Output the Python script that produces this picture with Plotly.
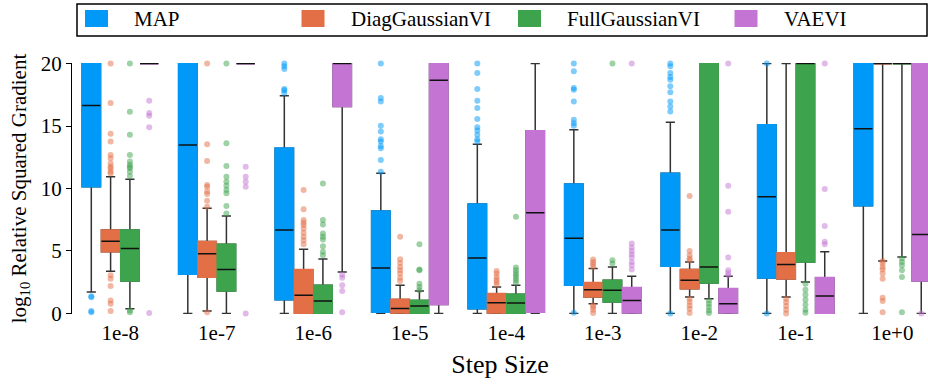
import plotly.graph_objects as go

# ---- data: log10 relative squared gradient, box statistics per step size ----
steps = ["1e-8", "1e-7", "1e-6", "1e-5", "1e-4", "1e-3", "1e-2", "1e-1", "1e+0"]
methods = ["MAP", "DiagGaussianVI", "FullGaussianVI", "VAEVI"]

map_q1 = [10.15, 3.13, 1.1, 0.1, 0.37, 2.25, 3.78, 2.84, 8.62]
map_med = [16.65, 13.49, 6.67, 3.64, 4.44, 6.02, 6.67, 9.34, 14.78]
map_q3 = [20, 20, 13.23, 8.19, 8.76, 10.36, 11.22, 15.1, 20]
map_lo = [1.71, 0, 0, 0, 0, 0, 0, 0, 0]
map_hi = [20, 20, 17.43, 11.22, 13.55, 14.7, 15.31, 20, 20]
map_out = [
    [1.37, 1.3, 0.19, 0.1],
    [],
    [20, 19.78, 19.57, 17.97, 17.86, 17.64],
    [20, 17.24, 16.97, 15.02, 14.56, 13.95, 13.76, 13.41, 13.23, 12.29, 11.35],
    [20, 19.25, 17.97, 17.03, 16.44, 15.56, 14.91, 14.64, 14.3, 13.95, 13.76],
    [20, 19.38, 18.05, 17.91, 16.97, 15.5, 15.23, 15.02, 0.05],
    [20, 19.78, 19.25, 18.93, 18.71, 18.18, 17.7, 16.97, 16.57, 16.17, 0.0],
    [20, 0.0],
    [],
]

diag_q1 = [4.93, 2.89, 0.0, 0.03, 0.03, 1.31, 1.98, 2.76, 20]
diag_med = [5.78, 4.77, 1.45, 0.4, 0.86, 1.9, 2.65, 3.91, 20]
diag_q3 = [6.67, 5.76, 3.5, 1.12, 1.58, 2.46, 3.51, 4.85, 20]
diag_lo = [3.37, 0.19, 0, 0, 0, 0.78, 1.31, 1.31, 4.2]
diag_hi = [10.95, 8.41, 5.14, 2.25, 2.12, 3.59, 4.12, 20, 20]
diag_out = [
    [20, 16.84, 14.38, 13.76, 12.69, 12.42, 12.0, 11.75, 11.6, 11.35, 11.2,
     3.05, 2.78, 2.2, 1.04, 0.78, 0.19],
    [20, 13.55, 12.2, 10.28, 10.15, 9.75, 9.56, 9.02, 8.54, 0.1],
    [9.88, 8.33, 7.47, 7.26, 7.07, 6.8, 6.45, 6.13, 5.86, 5.54],
    [6.13, 4.34, 4.04, 3.72, 3.45, 3.19, 2.86, 2.6],
    [3.4, 3.19, 2.92, 2.7, 2.52, 2.3],
    [4.31, 4.12, 3.94, 3.72, 0.65, 0.51, 0.29, 0.03],
    [9.4, 5.0, 4.66, 4.39, 4.26, 1.18, 0.91, 0.64, 0.37, 0.03],
    [1.18, 0.9, 0.6, 0.3, 0.0],
    [4.2, 3.99, 3.72, 3.51, 3.19, 2.78, 1.26, 0.99, 0.1],
]

full_q1 = [2.6, 1.79, 0, 0, 0, 0.91, 2.44, 4.12, 20]
full_med = [5.2, 3.51, 0.99, 0.59, 0.83, 1.85, 3.72, 20, 20]
full_q3 = [6.67, 5.54, 2.25, 1.04, 1.53, 2.65, 20, 20, 20]
full_lo = [0.37, 0, 0, 0, 0, 0, 1.18, 2.52, 4.52]
full_hi = [10.74, 7.79, 4.36, 1.79, 2.25, 3.72, 20, 20, 20]
full_out = [
    [20, 16.14, 14.3, 12.69, 12.16, 11.9, 11.75, 11.62, 11.35, 11.0, 0.24, 0.1],
    [20, 13.63, 11.81, 10.95, 10.55, 10.23, 9.88, 9.61, 8.59, 8.0],
    [10.41, 7.47, 7.12, 6.4, 6.13, 5.92, 5.38, 4.93, 4.66],
    [5.54, 3.51, 3.45, 2.38, 2.12, 1.85],
    [7.74, 3.67, 3.45, 3.24, 3.05, 2.86, 2.65, 2.46],
    [20, 4.26, 3.99],
    [1.04, 0.78, 0.51, 0.24, 0.03],
    [2.38, 1.9, 1.5, 1.1, 0.7, 0.3, 0.05],
    [4.39, 4.12, 3.86, 3.45, 2.92, 0.1],
]

vae_q1 = [20, 20, 16.57, 0.72, 0.1, 0.03, 0.03, 0, 2.6]
vae_med = [20, 20, 20, 18.66, 8.06, 1.04, 0.78, 1.39, 6.32]
vae_q3 = [20, 20, 20, 20, 14.62, 2.06, 1.98, 2.86, 20]
vae_lo = [20, 20, 3.32, 0, 0, 0, 0, 0, 0]
vae_hi = [20, 20, 20, 20, 20, 2.97, 2.97, 4.93, 20]
vae_out = [
    [17.03, 16.04, 15.82, 14.91, 0.03],
    [11.75, 10.95, 10.55, 10.15, 0.0],
    [3.1, 2.86, 2.25, 1.79, 0.1],
    [],
    [],
    [20, 5.6, 5.27, 5.0, 4.74, 4.47, 4.12, 3.86, 3.51],
    [20, 10.23, 8.14, 4.47, 3.45, 3.24, 3.05],
    [20, 9.96, 6.99, 5.73, 5.54],
    [0.0],
]

# ---- styling ----
colors = ["#0099F7", "#E36F47", "#3DA44D", "#C475D3"]
FONT = "Liberation Serif"
WHISKER = "#333333"
slot = 0.2          # horizontal slot per method inside one step-size group
box_w = 0.19

W, H = 928, 384
ML, MR, MT, MB = 72, 0, 63, 70
PW, PH = W - ML - MR, H - MT - MB


def px_x(p):
    """pixel column -> paper x"""
    return (p - ML) / PW


def px_y(p):
    """pixel row -> paper y"""
    return (H - MB - p) / PH


stats = [
    (map_q1, map_med, map_q3, map_lo, map_hi, map_out),
    (diag_q1, diag_med, diag_q3, diag_lo, diag_hi, diag_out),
    (full_q1, full_med, full_q3, full_lo, full_hi, full_out),
    (vae_q1, vae_med, vae_q3, vae_lo, vae_hi, vae_out),
]

fig = go.Figure()
whisker_traces, body_traces, median_traces, point_traces = [], [], [], []

for j, (name, col, (q1, med, q3, lo, hi, out)) in enumerate(zip(methods, colors, stats)):
    xs = [i + (j - 1.5) * slot for i in range(len(steps))]
    # whiskers and caps (dark)
    whisker_traces.append(go.Box(
        x=xs, q1=q1, median=med, q3=q3, lowerfence=lo, upperfence=hi,
        width=box_w, whiskerwidth=0.5, fillcolor=col,
        line=dict(color=WHISKER, width=1.5),
        name=name, showlegend=False, hoverinfo="skip",
    ))
    # filled body without a dark outline
    body_traces.append(go.Box(
        x=xs, q1=q1, median=q1, q3=q3, lowerfence=q1, upperfence=q3,
        width=box_w, whiskerwidth=0, fillcolor=col,
        line=dict(color=col, width=1.6),
        name=name, showlegend=False, hoverinfo="skip",
    ))
    # median line
    median_traces.append(go.Box(
        x=xs, q1=med, median=med, q3=med, lowerfence=med, upperfence=med,
        width=box_w, whiskerwidth=0, fillcolor="rgba(0,0,0,0)",
        line=dict(color="#111111", width=1.5),
        name=name, showlegend=False, hoverinfo="skip",
    ))
    # outliers
    ox, oy = [], []
    for i, vals in enumerate(out):
        ox += [xs[i]] * len(vals)
        oy += vals
    point_traces.append(go.Scatter(
        x=ox, y=oy, mode="markers", cliponaxis=False, name=name,
        marker=dict(color=col, size=6, opacity=0.5, line=dict(width=0)),
        showlegend=False, hoverinfo="skip",
    ))

for t in whisker_traces + body_traces + median_traces + point_traces:
    fig.add_trace(t)

# ---- legend: framed single row above the axes ----
shapes = [dict(
    type="rect", xref="paper", yref="paper",
    x0=px_x(77), x1=px_x(927), y0=px_y(36), y1=px_y(4),
    line=dict(color="black", width=1.5), fillcolor="rgba(0,0,0,0)", layer="above",
)]
annotations = []
entry_step = 216.5
for j, (name, col) in enumerate(zip(methods, colors)):
    x0 = 85 + j * entry_step
    shapes.append(dict(
        type="rect", xref="paper", yref="paper",
        x0=px_x(x0), x1=px_x(x0 + 23), y0=px_y(27), y1=px_y(10),
        line=dict(width=0), fillcolor=col, layer="above",
    ))
    annotations.append(dict(
        text=name, xref="paper", yref="paper",
        x=px_x(x0 + 47), y=px_y(19.5), xanchor="left", yanchor="middle",
        showarrow=False, font=dict(family=FONT, size=21, color="black"),
    ))

fig.update_layout(
    width=W, height=H,
    margin=dict(l=ML, r=MR, t=MT, b=MB),
    paper_bgcolor="white", plot_bgcolor="white",
    font=dict(family=FONT, color="black", size=21),
    boxmode="overlay",
    showlegend=False,
    shapes=shapes,
    annotations=annotations,
    xaxis=dict(
        range=[-0.5, 8.37], tickmode="array", tickvals=list(range(len(steps))),
        ticktext=steps, showline=False, showgrid=False, zeroline=False,
        ticks="", tickfont=dict(size=21), ticklabelstandoff=4,
        title=dict(text="Step Size", font=dict(size=26), standoff=10),
    ),
    yaxis=dict(
        range=[-0.05, 20.05], tickmode="array", tickvals=[0, 5, 10, 15, 20],
        showline=True, linecolor="black", linewidth=1,
        ticks="outside", ticklen=5, tickwidth=1, tickcolor="black",
        showgrid=False, zeroline=False, tickfont=dict(size=21),
        title=dict(text="log<sub>10</sub> Relative Squared Gradient",
                   font=dict(size=21), standoff=8),
    ),
)

fig.write_html("out.html")
